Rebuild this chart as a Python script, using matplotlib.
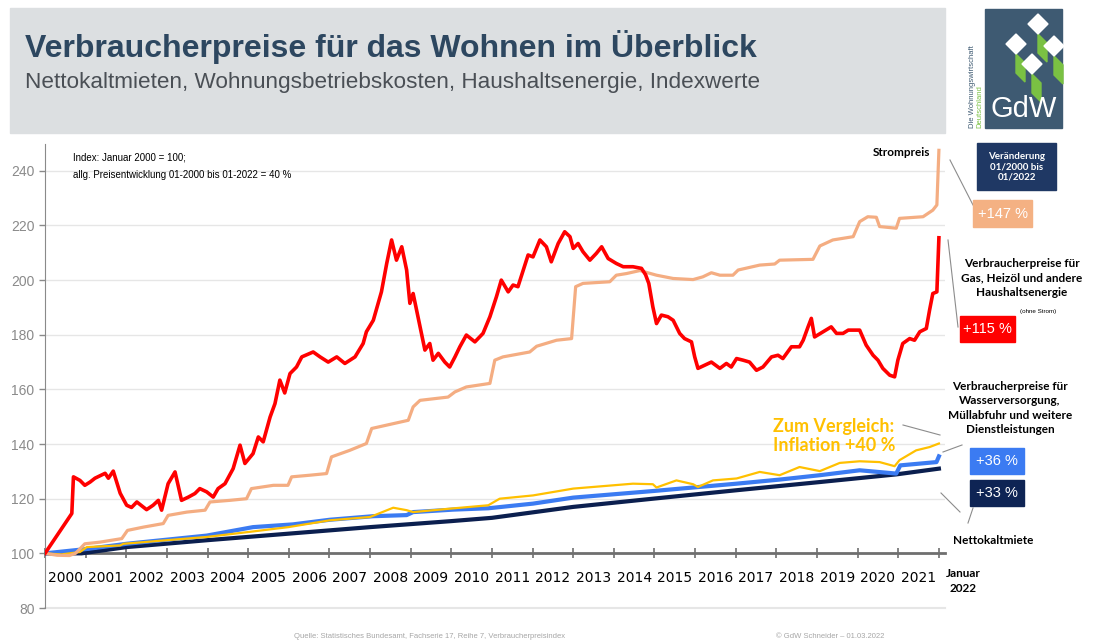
import matplotlib.pyplot as plt
from matplotlib.patches import Rectangle, Polygon
from matplotlib.lines import Line2D

# index values, Jan 2000 = 100 (decimal years)
strom_t = [2000.00, 2000.30, 2000.60, 2000.75, 2000.98, 2001.35, 2001.89, 2002.03, 2002.42, 2002.91,
           2003.03, 2003.49, 2003.94, 2004.06, 2004.55, 2004.96, 2005.08, 2005.62, 2005.98, 2006.07,
           2006.52, 2006.93, 2007.05, 2007.50, 2007.91, 2008.04, 2008.49, 2008.94, 2009.06, 2009.23,
           2009.92, 2010.09, 2010.37, 2010.95, 2011.07, 2011.27, 2011.93, 2012.10, 2012.59, 2012.96,
           2013.06, 2013.24, 2013.90, 2014.06, 2014.31, 2014.64, 2015.05, 2015.46, 2015.95, 2016.19,
           2016.40, 2016.61, 2016.93, 2017.06, 2017.59, 2017.96, 2018.08, 2018.90, 2019.07, 2019.39,
           2019.89, 2020.05, 2020.25, 2020.46, 2020.54, 2020.95, 2021.03, 2021.61, 2021.85, 2021.95,
           2022.00]
strom_v = [100, 99.3, 99.2, 100, 103.5, 104.1, 105.4, 108.4, 109.6, 110.9,
           113.9, 115.1, 115.8, 118.8, 119.4, 120, 123.7, 124.9, 124.9, 128,
           128.6, 129.2, 135.3, 137.7, 140.2, 145.7, 147.2, 148.7, 153.6, 156,
           157.2, 159.1, 160.9, 162.2, 170.7, 171.9, 173.7, 175.8, 178, 178.6,
           197.6, 198.8, 199.4, 201.8, 202.4, 203.5, 201.8, 200.6, 200.2, 201.2,
           202.7, 201.8, 201.8, 203.7, 205.5, 205.9, 207.3, 207.6, 212.5, 214.7,
           215.9, 221.4, 223.2, 223, 219.6, 219, 222.6, 223.2, 225.6, 227.5,
           247.5]

gas_t = [2000.00, 2000.66, 2000.70, 2000.86, 2000.98, 2001.11, 2001.23, 2001.48, 2001.56, 2001.68,
         2001.85, 2002.01, 2002.13, 2002.26, 2002.50, 2002.66, 2002.79, 2002.87, 2003.03, 2003.20,
         2003.36, 2003.53, 2003.69, 2003.81, 2003.98, 2004.14, 2004.26, 2004.43, 2004.63, 2004.80,
         2004.92, 2005.12, 2005.25, 2005.37, 2005.54, 2005.66, 2005.78, 2005.90, 2006.03, 2006.19,
         2006.32, 2006.60, 2006.77, 2006.97, 2007.18, 2007.38, 2007.63, 2007.83, 2007.91, 2008.08,
         2008.28, 2008.41, 2008.53, 2008.65, 2008.78, 2008.90, 2008.98, 2009.06, 2009.18, 2009.35,
         2009.47, 2009.55, 2009.68, 2009.84, 2009.96, 2010.09, 2010.21, 2010.37, 2010.58, 2010.78,
         2010.95, 2011.11, 2011.23, 2011.40, 2011.52, 2011.64, 2011.77, 2011.89, 2012.01, 2012.18,
         2012.34, 2012.46, 2012.63, 2012.79, 2012.92, 2013.00, 2013.12, 2013.24, 2013.41, 2013.57,
         2013.70, 2013.86, 2014.06, 2014.23, 2014.47, 2014.68, 2014.78, 2014.86, 2014.96, 2015.05,
         2015.17, 2015.33, 2015.46, 2015.62, 2015.74, 2015.91, 2015.99, 2016.07, 2016.24, 2016.40,
         2016.61, 2016.77, 2016.89, 2017.02, 2017.18, 2017.34, 2017.51, 2017.67, 2017.88, 2018.04,
         2018.16, 2018.37, 2018.57, 2018.66, 2018.78, 2018.86, 2018.94, 2019.15, 2019.35, 2019.48,
         2019.64, 2019.77, 2020.05, 2020.21, 2020.38, 2020.50, 2020.62, 2020.79, 2020.91, 2020.99,
         2021.11, 2021.28, 2021.40, 2021.53, 2021.69, 2021.77, 2021.85, 2021.95, 2022.00]
gas_v = [100, 114.6, 128, 126.7, 124.9, 126.1, 127.5, 129.3, 127.5, 130.1,
         122, 117.6, 116.8, 118.8, 116, 117.6, 119.4, 115.8, 125.5, 129.8,
         119.4, 120.6, 121.9, 123.7, 122.5, 120.6, 123.7, 125.5, 131, 139.6,
         132.9, 136.5, 142.6, 140.8, 149.9, 154.8, 163.4, 158.7, 165.8, 168.2,
         171.9, 173.7, 171.9, 170, 171.9, 169.5, 171.9, 176.8, 181.1, 185.3,
         195.7, 206.1, 214.7, 207.3, 212.2, 203.7, 191.5, 195.1, 186.6, 174.4,
         176.8, 170.7, 173.2, 170, 168.2, 171.9, 175.6, 179.9, 177.4, 180.5,
         186.6, 193.9, 200, 195.7, 198.2, 197.6, 203.7, 209.2, 208.5, 214.7,
         212.2, 206.7, 213.4, 217.7, 215.9, 211.6, 213.4, 210.4, 207.3, 209.8,
         212.2, 207.9, 206.1, 204.9, 204.9, 204.3, 202, 198.8, 190.2, 184.1,
         187.2, 186.6, 185.3, 180.5, 178.6, 177.4, 171.9, 167.7, 168.9, 170,
         167.7, 169.5, 168.2, 171.3, 170.7, 170, 167, 168.2, 171.9, 172.5,
         171.3, 175.6, 175.6, 178, 182.9, 186, 179.2, 181.1, 182.9, 180.5,
         180.5, 181.7, 181.7, 176.2, 172.5, 170.7, 167.7, 165.2, 164.6, 170.7,
         176.8, 178.6, 178, 181.1, 182.3, 189, 195.1, 195.7, 215.5]

infl_t = [2000.00, 2000.40, 2000.86, 2001.03, 2001.85, 2001.93, 2002.99, 2003.98, 2005.00, 2005.99,
          2007.01, 2008.00, 2008.57, 2008.90, 2009.06, 2010.00, 2010.91, 2011.19, 2012.01, 2013.00,
          2013.98, 2014.47, 2014.96, 2015.05, 2015.54, 2015.95, 2016.07, 2016.44, 2017.02, 2017.59,
          2018.08, 2018.57, 2019.07, 2019.56, 2020.05, 2020.54, 2020.91, 2021.03, 2021.44, 2021.77,
          2022.00]
infl_v = [100, 99.6, 100.5, 102.3, 102.9, 103.5, 104.8, 106, 107.8, 109.6,
          112.1, 113.3, 116.7, 115.8, 115.1, 116.4, 117.6, 120, 121.2, 123.7,
          124.9, 125.5, 125.3, 124.1, 126.7, 125.3, 124.3, 126.7, 127.4, 129.8,
          128.6, 131.6, 130.1, 133.1, 133.7, 133.4, 131.9, 134.1, 137.7, 138.9,
          140.2]

wasser_t = [2000.00, 2001.03, 2002.01, 2003.98, 2005.12, 2006.10, 2007.01, 2008.08, 2008.90, 2009.06,
            2010.04, 2010.91, 2012.01, 2013.00, 2013.98, 2014.96, 2015.95, 2017.02, 2018.08, 2019.07,
            2020.05, 2020.95, 2021.05, 2021.94, 2022.00]
wasser_v = [100, 101.6, 103.5, 106.5, 109.6, 110.6, 112.3, 113.6, 114, 115.1,
            116, 116.5, 118.2, 120.4, 121.6, 122.8, 124.1, 125.5, 127, 128.6,
            130.4, 129.2, 132.2, 133.4, 135.5]

miete_t = [2000.00, 2000.90, 2002.01, 2003.98, 2005.99, 2008.00, 2010.00, 2011.00, 2013.00, 2014.96,
           2017.02, 2019.07, 2020.95, 2022.00]
miete_v = [100, 100, 102.3, 104.8, 107.2, 109.6, 111.8, 113.0, 117, 120,
           123.1, 126.1, 128.9, 131]

years = list(range(2000, 2022))
yticks = [80, 100, 120, 140, 160, 180, 200, 220, 240]

W, H = 1095, 644
fig = plt.figure(figsize=(W / 100, H / 100), dpi=100)


def fx(x):
    return x / W


def fy(y):
    return 1 - y / H


def box(x0, y0, x1, y1, color, z=1):
    fig.patches.append(Rectangle((fx(x0), fy(y1)), fx(x1) - fx(x0), fy(y0) - fy(y1),
                                 transform=fig.transFigure, color=color, zorder=z))


def link(x0, y0, x1, y1):
    fig.add_artist(Line2D([fx(x0), fx(x1)], [fy(y0), fy(y1)], transform=fig.transFigure,
                          color='#8c8c8c', lw=0.8))


# header band
box(10, 8, 945, 133, '#dcdfe1', 0)
fig.text(fx(25), fy(57), 'Verbraucherpreise für das Wohnen im Überblick', fontsize=23,
         fontweight='bold', color='#2d4760', family='Liberation Sans', va='baseline')
fig.text(fx(25), fy(88), 'Nettokaltmieten, Wohnungsbetriebskosten, Haushaltsenergie, Indexwerte',
         fontsize=16.2, color='#4a4f55', family='Liberation Sans', va='baseline')

# GdW logo
box(985, 9, 1062, 128, '#3e5a72', 1)
for cx, cy in [(1038, 24), (1016, 44), (1054, 46), (1032, 64)]:
    fig.patches.append(Polygon([(fx(cx), fy(cy + 10)), (fx(cx + 9), fy(cy + 19)),
                                (fx(cx + 9), fy(cy + 38)), (fx(cx), fy(cy + 29))],
                               transform=fig.transFigure, color='#7ac143', zorder=2))
    fig.patches.append(Polygon([(fx(cx - 10), fy(cy)), (fx(cx), fy(cy - 10)),
                                (fx(cx + 10), fy(cy)), (fx(cx), fy(cy + 10))],
                               transform=fig.transFigure, color='white', zorder=3))
fig.text(fx(1024), fy(109), 'GdW', fontsize=21, color='white', family='Liberation Sans',
         ha='center', va='center', zorder=4)
fig.text(fx(973), fy(128), 'Die Wohnungswirtschaft', fontsize=5.5, color='#3e5a72', rotation=90,
         ha='center', va='bottom', family='Liberation Sans')
fig.text(fx(980), fy(128), 'Deutschland', fontsize=5.5, color='#7ac143', rotation=90,
         ha='center', va='bottom', family='Liberation Sans')

# chart
ax = fig.add_axes([fx(45), fy(608), fx(945) - fx(45), fy(143.5) - fy(608)])
ax.set_xlim(2000, 2022.15)
ax.set_ylim(80, 250)

ax.plot(miete_t, miete_v, color='#0b1f4f', lw=3.0, zorder=3, solid_joinstyle='round')
ax.plot(wasser_t, wasser_v, color='#3b7bf2', lw=3.0, zorder=3.5, solid_joinstyle='round')
ax.plot(infl_t, infl_v, color='#ffc000', lw=1.6, zorder=4, solid_joinstyle='round')
ax.plot(strom_t, strom_v, color='#f4ad82', lw=2.3, zorder=4.5, solid_joinstyle='round')
ax.plot(gas_t, gas_v, color='#ff0000', lw=2.6, zorder=5, solid_joinstyle='round')

ax.set_yticks(yticks)
ax.yaxis.grid(True, color='#e6e6e6', lw=1)
ax.axhline(80, color='#e6e6e6', lw=1.5, clip_on=False, zorder=0.5)
ax.set_axisbelow(True)
ax.tick_params(axis='y', colors='#8a8a8a', labelsize=10, length=4, width=1)
for lab in ax.get_yticklabels():
    lab.set_family('Liberation Sans')

ax.set_xticks(range(2000, 2023))
ax.set_xticklabels([])
ax.set_xticks([y + 0.5 for y in years], minor=True)
ax.set_xticklabels([str(y) for y in years], minor=True, fontsize=9, fontweight='bold',
                   family='Lato', color='#111111')
ax.tick_params(axis='x', which='major', direction='inout', length=7, width=1.2, color='#6f6f6f')
ax.tick_params(axis='x', which='minor', length=0, pad=13)

ax.spines['top'].set_visible(False)
ax.spines['right'].set_visible(False)
ax.spines['left'].set_color('#8a8a8a')
ax.spines['bottom'].set_position(('data', 100))
ax.spines['bottom'].set_color('#6f6f6f')
ax.spines['bottom'].set_linewidth(2)
ax.spines['bottom'].set_zorder(2)

# notes
fig.text(fx(73), fy(158), 'Index: Januar 2000 = 100;', fontsize=7, va='center', family='Liberation Sans')
fig.text(fx(73), fy(175), 'allg. Preisentwicklung 01-2000 bis 01-2022 = 40 %', fontsize=7,
         va='center', family='Liberation Sans')

lato = dict(family='Lato', fontweight='bold')
fig.text(fx(930), fy(153), 'Strompreis', fontsize=8.5, ha='right', va='center', **lato)
box(977, 143, 1056, 190, '#1f3864', 2)
fig.text(fx(1016.5), fy(166.5), 'Veränderung\n01/2000 bis\n01/2022', fontsize=7, color='white',
         ha='center', va='center', linespacing=1.2, zorder=3, **lato)
box(973, 200, 1032, 227, '#f4b183', 2)
fig.text(fx(1002.5), fy(213.5), '+147 %', fontsize=10.5, color='white', ha='center', va='center',
         zorder=3, family='Liberation Sans')
link(950, 160, 973, 205)

fig.text(fx(1022), fy(278), 'Verbraucherpreise für\nGas, Heizöl und andere\nHaushaltsenergie',
         fontsize=8.5, ha='center', va='center', linespacing=1.35, **lato)
fig.text(fx(1038), fy(311), '(ohne Strom)', fontsize=4.5, ha='center', va='center',
         family='Liberation Sans')
box(960, 316, 1015, 342, '#ff0000', 2)
fig.text(fx(987.5), fy(329), '+115 %', fontsize=10.5, color='white', ha='center', va='center',
         zorder=3, family='Liberation Sans')
link(948, 240, 958, 327)

fig.text(fx(1010), fy(408), 'Verbraucherpreise für\nWasserversorgung,\nMüllabfuhr und weitere\nDienstleistungen',
         fontsize=8.5, ha='center', va='center', linespacing=1.35, **lato)
fig.text(fx(773), fy(436), 'Zum Vergleich:\nInflation +40 %', fontsize=13, color='#ffc000',
         ha='left', va='center', linespacing=1.2, **lato)
link(903, 425, 940, 435)
link(943, 452, 962, 445)

box(970, 448, 1024, 474, '#3b7bf2', 2)
fig.text(fx(997), fy(461), '+36 %', fontsize=10.5, color='white', ha='center', va='center',
         zorder=3, family='Liberation Sans')
box(970, 480, 1024, 506, '#0e2454', 2)
fig.text(fx(997), fy(493), '+33 %', fontsize=10.5, color='white', ha='center', va='center',
         zorder=3, family='Liberation Sans')
link(941, 493, 960, 512)
link(973, 508, 968, 523)

fig.text(fx(993), fy(540), 'Nettokaltmiete', fontsize=8.5, ha='center', va='center', **lato)
fig.text(fx(963), fy(581), 'Januar\n2022', fontsize=8.5, ha='center', va='center',
         linespacing=1.5, **lato)

fig.text(fx(430), fy(637), 'Quelle: Statistisches Bundesamt, Fachserie 17, Reihe 7, Verbraucherpreisindex',
         fontsize=5.5, color='#a6a6a6', ha='center', va='center', family='Liberation Sans')
fig.text(fx(830), fy(637), '© GdW Schneider – 01.03.2022', fontsize=5.5, color='#a6a6a6',
         ha='center', va='center', family='Liberation Sans')

fig.savefig('out.png', dpi=100)
